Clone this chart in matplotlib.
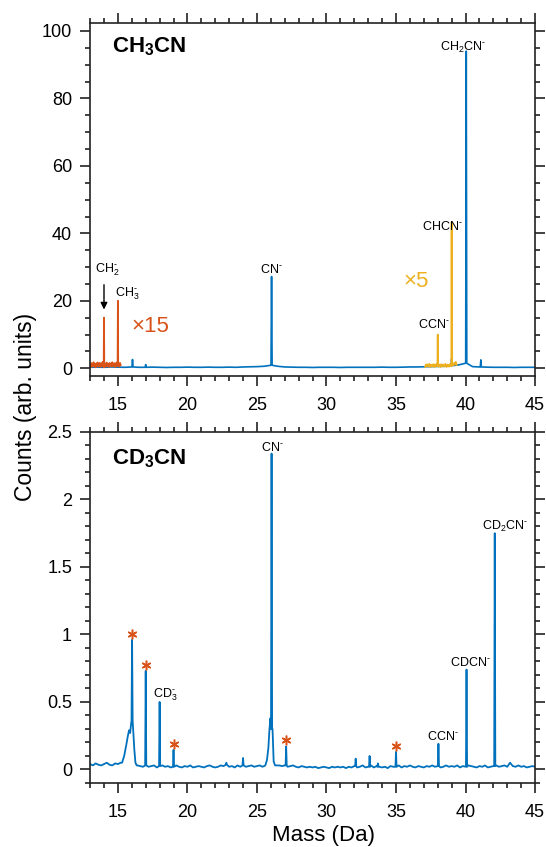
import numpy as np
import matplotlib.pyplot as plt
from matplotlib.ticker import MultipleLocator, FuncFormatter

plt.rcParams['font.family'] = 'Liberation Sans'
plt.rcParams['mathtext.fontset'] = 'custom'
plt.rcParams['mathtext.rm'] = 'Liberation Sans'
plt.rcParams['mathtext.bf'] = 'Liberation Sans:bold'
plt.rcParams['mathtext.default'] = 'regular'

BLUE = '#0072BD'
ORANGE = '#D95319'
YELLOW = '#EDB120'

# ---- CH3CN spectrum (top) ----
top_base_start, top_base_step = 13.0, 0.5
top_base = [0.3, 0.35, 0.3, 0.4, 0.35, 0.3, 0.4, 0.3, 0.3, 0.35,
            0.3, 0.25, 0.3, 0.3, 0.35, 0.3, 0.3, 0.35, 0.3, 0.3,
            0.35, 0.3, 0.4, 0.45, 0.5, 0.6, 0.9, 0.6, 0.4, 0.35,
            0.3, 0.3, 0.25, 0.3, 0.3, 0.3, 0.25, 0.3, 0.3, 0.3,
            0.3, 0.3, 0.35, 0.3, 0.3, 0.35, 0.4, 0.4, 0.45, 0.5,
            0.55, 0.6, 0.8, 1.0, 1.5, 0.5, 0.4, 0.35, 0.3, 0.3,
            0.3, 0.25, 0.3, 0.3, 0.3]
top_peak_mass = [14.0, 15.0, 16.05, 17.0, 26.05, 38.0, 39.0, 40.05, 41.1]
top_peak_height = [1.0, 1.3, 2.6, 1.1, 27.2, 0.7, 2.9, 94.0, 2.5]

# x15 section
x15_start, x15_step = 13.0, 0.05
x15_base = [0.9, 1.6, 0.4, 1.4, 0.7, 1.8, 0.5, 1.3, 0.3, 1.5,
            0.8, 1.7, 0.5, 1.2, 1.6, 0.4, 1.4, 0.7, 1.9, 0.8,
            0.4, 1.5, 1.0, 0.5, 1.7, 0.7, 1.3, 0.4, 1.6, 0.8,
            1.4, 0.5, 1.8, 0.7, 1.1, 1.5, 0.4, 1.3, 1.7, 0.6,
            0.9, 1.4, 0.5, 1.6, 1.0]
x15_peak_mass = [14.0, 15.0]
x15_peak_height = [15.0, 20.0]

# x5 section
x5_start, x5_step = 37.1, 0.05
x5_base = [0.4, 1.1, 0.6, 1.2, 0.5, 0.9, 1.3, 0.4,
           1.0, 0.6, 1.1, 0.5, 1.2, 0.8, 0.4, 1.0, 1.3, 0.6,
           0.9, 0.5, 1.1, 0.9, 0.4, 1.2, 0.6, 0.8, 1.1, 0.5,
           1.0, 1.3, 0.6, 0.4, 1.1, 0.8, 0.5, 1.2, 0.9, 0.6,
           1.1, 0.8, 1.4, 0.9, 1.6, 1.2, 1.9, 1.0]
x5_peak_mass = [38.0, 39.0]
x5_peak_height = [10.0, 43.3]

# ---- CD3CN spectrum (bottom) ----
bot_base_start, bot_base_step = 13.0, 0.2
bot_base = [0.040, 0.030, 0.045, 0.035, 0.030, 0.040, 0.050, 0.035, 0.030, 0.045,
            0.040, 0.050, 0.045, 0.050, 0.050, 0.050, 0.030, 0.030, 0.025, 0.020,
            0.030, 0.020, 0.025, 0.030, 0.015, 0.025, 0.030, 0.020, 0.025, 0.015,
            0.020, 0.030, 0.020, 0.015, 0.025, 0.020, 0.030, 0.015, 0.020, 0.025,
            0.020, 0.015, 0.025, 0.030, 0.020, 0.015, 0.020, 0.030, 0.025, 0.035,
            0.020, 0.025, 0.015, 0.030, 0.020, 0.030, 0.020, 0.025, 0.030, 0.020,
            0.025, 0.030, 0.020, 0.030, 0.035, 0.040, 0.035, 0.030, 0.030, 0.025,
            0.030, 0.020, 0.025, 0.030, 0.020, 0.015, 0.025, 0.020, 0.015, 0.020,
            0.015, 0.020, 0.010, 0.015, 0.020, 0.015, 0.010, 0.020, 0.015, 0.020,
            0.015, 0.020, 0.010, 0.020, 0.015, 0.025, 0.015, 0.020, 0.030, 0.015,
            0.020, 0.030, 0.015, 0.025, 0.020, 0.015, 0.020, 0.010, 0.025, 0.020,
            0.020, 0.030, 0.015, 0.025, 0.020, 0.030, 0.020, 0.015, 0.025, 0.020,
            0.015, 0.025, 0.020, 0.030, 0.020, 0.025, 0.015, 0.020, 0.030, 0.020,
            0.025, 0.020, 0.030, 0.015, 0.025, 0.020, 0.030, 0.025, 0.020, 0.015,
            0.025, 0.020, 0.030, 0.015, 0.020, 0.025, 0.030, 0.020, 0.025, 0.030,
            0.020, 0.045, 0.025, 0.020, 0.030, 0.020, 0.025, 0.015, 0.020, 0.025, 0.020]
hump16_mass = [15.3, 15.45, 15.6, 15.7, 15.8, 15.88, 15.95, 16.02, 16.1, 16.18, 16.26, 16.35]
hump16_val = [0.05, 0.10, 0.18, 0.24, 0.29, 0.27, 0.34, 0.36, 0.29, 0.15, 0.05, 0.03]
hump26_mass = [25.6, 25.72, 25.82, 25.9, 25.97, 26.12, 26.2, 26.3]
hump26_val = [0.03, 0.07, 0.16, 0.30, 0.38, 0.30, 0.06, 0.03]
bot_peak_mass = [16.02, 17.0, 18.0, 19.0, 22.8, 24.0, 26.05, 27.1, 32.1, 33.1, 33.7, 35.0,
                 38.05, 40.07, 42.1, 43.2]
bot_peak_height = [0.96, 0.73, 0.50, 0.145, 0.05, 0.085, 2.34, 0.17, 0.08, 0.10, 0.045, 0.13,
                   0.19, 0.74, 1.75, 0.05]
star_mass = [16.02, 17.0, 19.0, 27.1, 35.0]
star_height = [0.96, 0.73, 0.145, 0.17, 0.13]


def build_trace(start, step, base, peak_m, peak_h, humps=(), w=0.04):
    m = start + step * np.arange(len(base))
    v = np.array(base, dtype=float)
    for hm, hv in humps:
        keep = (m < min(hm)) | (m > max(hm))
        m = np.concatenate([m[keep], hm])
        v = np.concatenate([v[keep], hv])
        o = np.argsort(m)
        m, v = m[o], v[o]
    for pm, ph in zip(peak_m, peak_h):
        v0 = v[np.argmin(np.abs(m - pm))]
        keep = np.abs(m - pm) > 1.2 * w
        m = np.concatenate([m[keep], [pm - w, pm, pm + w]])
        v = np.concatenate([v[keep], [v0, ph, v0]])
        o = np.argsort(m)
        m, v = m[o], v[o]
    return m, v


def style(ax, ymaj, ymin):
    ax.set_xlim(13, 45)
    ax.xaxis.set_major_locator(MultipleLocator(5))
    ax.xaxis.set_minor_locator(MultipleLocator(1))
    ax.yaxis.set_major_locator(MultipleLocator(ymaj))
    ax.yaxis.set_minor_locator(MultipleLocator(ymin))
    ax.yaxis.set_major_formatter(FuncFormatter(lambda val, pos: '%g' % val))
    ax.tick_params(which='both', direction='out', top=True, right=True, width=1.2,
                   labelsize=13, color='#222222')
    ax.tick_params(which='major', length=7)
    ax.tick_params(which='minor', length=3.5)
    ax.tick_params(axis='x', which='major', pad=8)
    ax.tick_params(axis='y', which='major', pad=6)
    for s in ax.spines.values():
        s.set_linewidth(1.2)
        s.set_color('#222222')


fig = plt.figure(figsize=(5.46, 8.47), dpi=100)
ax1 = fig.add_axes([0.165, 0.556, 0.815, 0.417])
ax2 = fig.add_axes([0.165, 0.0756, 0.815, 0.4144])

# top panel
m, v = build_trace(top_base_start, top_base_step, top_base, top_peak_mass, top_peak_height)
ax1.plot(m, v, color=BLUE, lw=1.2)
m, v = build_trace(x15_start, x15_step, x15_base, x15_peak_mass, x15_peak_height, w=0.02)
ax1.plot(m, v, color=ORANGE, lw=1.3)
m, v = build_trace(x5_start, x5_step, x5_base, x5_peak_mass, x5_peak_height, w=0.02)
ax1.plot(m, v, color=YELLOW, lw=1.3)
style(ax1, 20, 5)
ax1.set_ylim(-2.3, 102.4)

M = r'$^{\text{-}}$'
ax1.text(14.6, 93.5, r'CH$_3$CN', fontsize=16, fontweight='bold', ha='left', va='baseline')
lab = dict(fontsize=9, va='baseline')
ax1.text(13.34, 28.3, r'CH$_2^{\text{-}}$', ha='left', **lab)
ax1.text(14.78, 21.2, r'CH$_3^{\text{-}}$', ha='left', **lab)
ax1.annotate('', xy=(14.0, 16.6), xytext=(14.0, 25.6),
             arrowprops=dict(arrowstyle='-|>', color='black', lw=1.0, mutation_scale=10))
ax1.text(26.05, 28.3, 'CN' + M, ha='center', **lab)
ax1.text(39.8, 94.0, r'CH$_2$CN' + M, ha='center', **lab)
ax1.text(38.33, 41.0, 'CHCN' + M, ha='center', **lab)
ax1.text(37.7, 11.9, 'CCN' + M, ha='center', **lab)
ax1.text(16.0, 12.3, '×15', color=ORANGE, fontsize=16, ha='left', va='center')
ax1.text(35.55, 25.6, '×5', color=YELLOW, fontsize=16, ha='left', va='center')

# bottom panel
m, v = build_trace(bot_base_start, bot_base_step, bot_base, bot_peak_mass, bot_peak_height,
                   humps=[(hump16_mass, hump16_val), (hump26_mass, hump26_val)])
ax2.plot(m, v, color=BLUE, lw=1.3)
ax2.plot(star_mass, np.array(star_height) + 0.045, linestyle='none', marker=(6, 2, 0),
         ms=7, mew=1.1, color=ORANGE)
style(ax2, 0.5, 0.1)
ax2.set_ylim(-0.1, 2.5)

ax2.text(14.6, 2.26, r'CD$_3$CN', fontsize=16, fontweight='bold', ha='left', va='baseline')
ax2.text(26.1, 2.36, 'CN' + M, ha='center', **lab)
ax2.text(17.55, 0.53, r'CD$_3^{\text{-}}$', ha='left', **lab)
ax2.text(37.24, 0.22, 'CCN' + M, ha='left', **lab)
ax2.text(38.88, 0.77, 'CDCN' + M, ha='left', **lab)
ax2.text(41.2, 1.775, r'CD$_2$CN' + M, ha='left', **lab)

fig.text(0.047, 0.519, 'Counts (arb. units)', rotation=90, fontsize=16.5, ha='center', va='center')
fig.text(0.592, 0.014, 'Mass (Da)', fontsize=16, ha='center', va='center')

fig.savefig('out.png', dpi=100)
